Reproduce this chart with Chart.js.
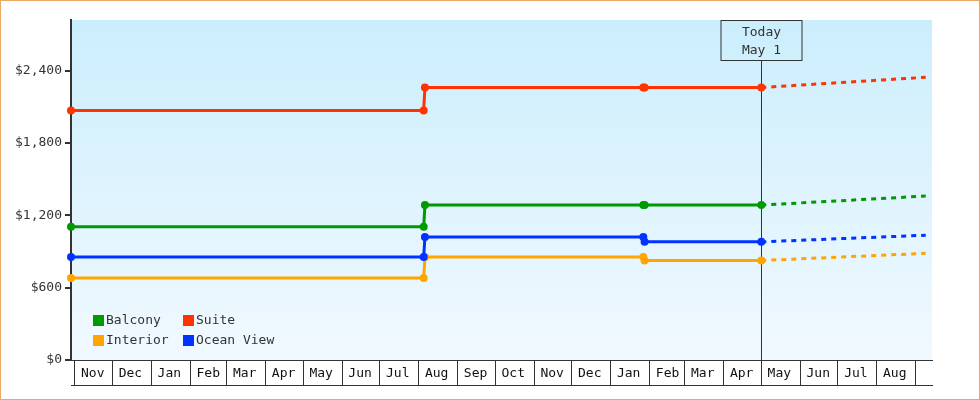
<!DOCTYPE html>
<html>
<head>
<meta charset="utf-8">
<script src="https://cdn.jsdelivr.net/npm/chart.js@4.4.1/dist/chart.umd.min.js"></script>
<style>
  html, body { margin: 0; padding: 0; background: #fff; }
  #wrap { width: 980px; height: 400px; }
</style>
</head>
<body>
<div id="wrap"><canvas id="fareChart" width="980" height="400"></canvas></div>
<script>
// fare history (solid) and projection (dashed), prices in USD
var pointDates = ['2015-10-29', '2016-08-05', '2016-08-06', '2017-01-27', '2017-01-28', '2017-05-01'];
var balcony    = [1105, 1105, 1285, 1285, 1285, 1285];
var suite      = [2070, 2070, 2260, 2260, 2260, 2260];
var interior   = [680, 680, 855, 855, 825, 825];
var oceanView  = [855, 855, 1020, 1020, 980, 980];

var forecastDates     = ['2017-05-01', '2017-09-09'];
var balconyForecast   = [1285, 1360];
var suiteForecast     = [2260, 2345];
var interiorForecast  = [825, 885];
var oceanViewForecast = [980, 1035];

var axisStart = '2015-10-29';
var axisEnd = '2017-09-14';
var monthTicks = ['2015-11-01','2015-12-01','2016-01-01','2016-02-01','2016-03-01','2016-04-01',
                  '2016-05-01','2016-06-01','2016-07-01','2016-08-01','2016-09-01','2016-10-01',
                  '2016-11-01','2016-12-01','2017-01-01','2017-02-01','2017-03-01','2017-04-01',
                  '2017-05-01','2017-06-01','2017-07-01','2017-08-01','2017-09-01'];
var monthLabels = ['Nov','Dec','Jan','Feb','Mar','Apr','May','Jun','Jul','Aug','Sep','Oct',
                   'Nov','Dec','Jan','Feb','Mar','Apr','May','Jun','Jul','Aug'];
var yTicks = [0, 600, 1200, 1800, 2400];
var todayDate = '2017-05-01';
var todayText = ['Today', 'May 1'];

var MONO = '"DejaVu Sans Mono", "Liberation Mono", monospace';

function dayNum(s) {
  var p = s.split('-');
  return Date.UTC(+p[0], +p[1] - 1, +p[2]) / 86400000;
}

function toPoints(dates, vals) {
  return dates.map(function (d, i) { return { x: dayNum(d), y: vals[i] }; });
}

function series(label, color, dates, vals, dashed, order) {
  return {
    label: label,
    data: toPoints(dates, vals),
    order: order,
    borderColor: color,
    backgroundColor: color,
    borderWidth: 3,
    borderDash: dashed ? [5, 5] : [],
    pointRadius: dashed ? 0 : 4,
    pointBorderWidth: 0,
    pointBackgroundColor: color,
    tension: 0,
    fill: false,
    clip: false
  };
}

// plot background, page border
const backdrop = {
  id: 'backdrop',
  beforeDraw(chart) {
    const ctx = chart.ctx, a = chart.chartArea;
    ctx.save();
    ctx.fillStyle = '#fff';
    ctx.fillRect(0, 0, chart.width, chart.height);
    var g = ctx.createLinearGradient(0, a.top, 0, a.bottom);
    g.addColorStop(0, '#cbeefc');
    g.addColorStop(1, '#f1f9ff');
    ctx.fillStyle = g;
    ctx.fillRect(a.left, a.top, a.right - a.left, a.bottom - a.top);
    ctx.strokeStyle = '#e6aa66';
    ctx.lineWidth = 1;
    ctx.strokeRect(0.5, 0.5, chart.width - 1, chart.height - 1);
    ctx.restore();
  }
};

// "today" marker line with its label box
const todayMarker = {
  id: 'todayMarker',
  beforeDatasetsDraw(chart) {
    const ctx = chart.ctx, a = chart.chartArea;
    const x = Math.round(chart.scales.x.getPixelForValue(dayNum(todayDate))) + 0.5;
    const boxW = 80, boxH = 40, top = a.top + 0.5;
    ctx.save();
    ctx.strokeStyle = '#333';
    ctx.lineWidth = 1;
    ctx.beginPath();
    ctx.moveTo(x, top + boxH);
    ctx.lineTo(x, a.bottom);
    ctx.stroke();
    ctx.strokeRect(Math.round(x - boxW / 2) - 1, top, boxW + 1, boxH);
    ctx.fillStyle = '#333';
    ctx.font = '13px ' + MONO;
    ctx.textAlign = 'center';
    ctx.textBaseline = 'middle';
    ctx.fillText(todayText[0], x, top + 12);
    ctx.fillText(todayText[1], x, top + 30);
    ctx.restore();
  }
};

// legend inside the plot, two columns
const insideLegend = {
  id: 'insideLegend',
  afterDatasetsDraw(chart) {
    const ctx = chart.ctx;
    const cols = [93, 183], rows = [315, 335];
    ctx.save();
    ctx.font = '13px ' + MONO;
    ctx.textBaseline = 'middle';
    ctx.textAlign = 'left';
    for (var i = 0; i < 4; i++) {
      var ds = chart.data.datasets[i];
      var x = cols[i % 2], y = rows[Math.floor(i / 2)];
      ctx.fillStyle = ds.borderColor;
      ctx.fillRect(x, y, 11, 11);
      ctx.fillStyle = '#333';
      ctx.fillText(ds.label, x + 13, y + 6);
    }
    ctx.restore();
  }
};

const cfg = {
  type: 'line',
  data: {
    datasets: [
      series('Balcony', '#009900', pointDates, balcony, false, 0),
      series('Suite', '#ff3300', pointDates, suite, false, 0),
      series('Interior', '#ffa500', pointDates, interior, false, 1),
      series('Ocean View', '#0033ff', pointDates, oceanView, false, 0),
      series('Balcony forecast', '#009900', forecastDates, balconyForecast, true, 2),
      series('Suite forecast', '#ff3300', forecastDates, suiteForecast, true, 2),
      series('Interior forecast', '#ffa500', forecastDates, interiorForecast, true, 2),
      series('Ocean View forecast', '#0033ff', forecastDates, oceanViewForecast, true, 2)
    ]
  },
  options: {
    responsive: false,
    animation: false,
    events: [],
    layout: { padding: { top: 20, right: 48, bottom: 15, left: 0 } },
    plugins: {
      legend: { display: false },
      tooltip: { enabled: false }
    },
    scales: {
      x: {
        type: 'linear',
        position: 'bottom',
        min: dayNum(axisStart),
        max: dayNum(axisEnd),
        afterBuildTicks: function (axis) {
          axis.ticks = monthTicks.map(function (d) { return { value: dayNum(d) }; });
        },
        afterFit: function (axis) { axis.height = 25; },
        border: { color: '#333', width: 1 },
        grid: { drawOnChartArea: false, tickLength: 25, color: '#333', lineWidth: 1 },
        ticks: {
          autoSkip: false,
          maxRotation: 0,
          labelOffset: 18,
          padding: -19.5,
          color: '#111',
          font: { family: MONO, size: 13 },
          callback: function (v, i) { return monthLabels[i] || ''; }
        }
      },
      x2: {
        type: 'linear',
        position: 'bottom',
        weight: 1,
        min: dayNum(axisStart),
        max: dayNum(axisEnd),
        afterFit: function (axis) { axis.height = 0; },
        border: { color: '#333', width: 1 },
        grid: { display: false },
        ticks: { display: false }
      },
      y: {
        min: 0,
        max: 2820,
        afterBuildTicks: function (axis) {
          axis.ticks = yTicks.map(function (v) { return { value: v }; });
        },
        afterFit: function (axis) { axis.width = 71; },
        border: { color: '#333', width: 2 },
        grid: { drawOnChartArea: false, tickLength: 6, color: '#333', lineWidth: 2 },
        ticks: {
          padding: 3,
          color: '#333',
          font: { family: MONO, size: 13 },
          callback: function (v) { return '$' + v.toLocaleString('en-US'); }
        }
      }
    }
  },
  plugins: [backdrop, todayMarker, insideLegend]
};

var fareChart = new Chart(document.getElementById('fareChart'), cfg);
</script>
</body>
</html>
